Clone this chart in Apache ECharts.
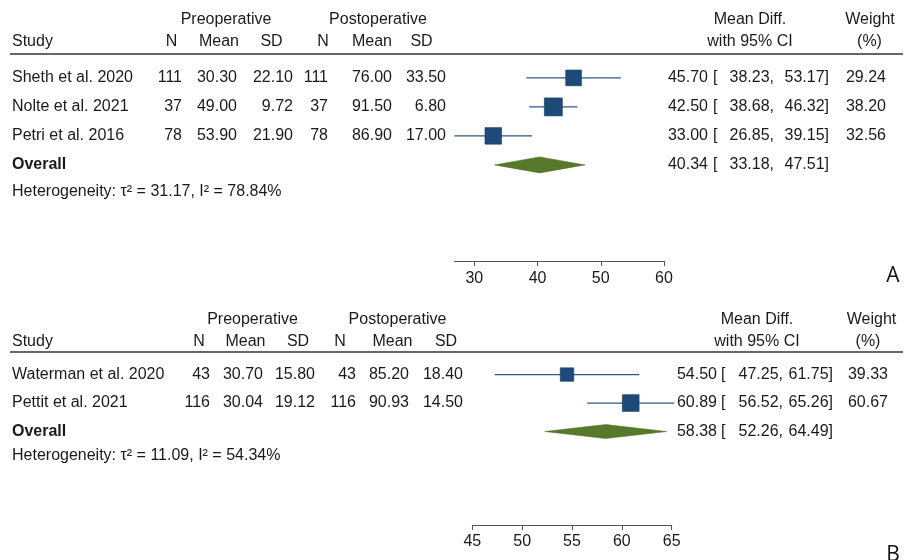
<!DOCTYPE html>
<html><head><meta charset="utf-8">
<script src="https://cdn.jsdelivr.net/npm/echarts@6/dist/echarts.min.js"></script>
<style>html,body{margin:0;padding:0;background:#fff}#c{width:904px;height:560px}</style>
</head><body><div id="c"></div>
<script>
// ---------- Panel A data ----------
const studiesA = ['Sheth et al. 2020', 'Nolte et al. 2021', 'Petri et al. 2016'];
const preNA = [111, 37, 78];
const preMeanA = [30.30, 49.00, 53.90];
const preSDA = [22.10, 9.72, 21.90];
const postNA = [111, 37, 78];
const postMeanA = [76.00, 91.50, 86.90];
const postSDA = [33.50, 6.80, 17.00];
const mdA = [45.70, 42.50, 33.00];
const loA = [38.23, 38.68, 26.85];
const hiA = [53.17, 46.32, 39.15];
const weightA = [29.24, 38.20, 32.56];
const overallA = [40.34, 33.18, 47.51]; // md, lo, hi
const tau2A = '31.17';
const i2A = '78.84';
const ticksA = [30, 40, 50, 60];

// ---------- Panel B data ----------
const studiesB = ['Waterman et al. 2020', 'Pettit et al. 2021'];
const preNB = [43, 116];
const preMeanB = [30.70, 30.04];
const preSDB = [15.80, 19.12];
const postNB = [43, 116];
const postMeanB = [85.20, 90.93];
const postSDB = [18.40, 14.50];
const mdB = [54.50, 60.89];
const loB = [47.25, 56.52];
const hiB = [61.75, 65.26];
const weightB = [39.33, 60.67];
const overallB = [58.38, 52.26, 64.49];
const tau2B = '11.09';
const i2B = '54.34';
const ticksB = [45, 50, 55, 60, 65];

const FONT = '"Liberation Sans", Arial, Helvetica, sans-serif';
const TXT = '#1a1a1a';
const SQ = '#1d4a78';
const CI = '#2e5686';
const DIA = '#58782a';

function studyRender(scale) {
  return function (params, api) {
    const md = api.value(0), i = api.value(1), lo = api.value(2), hi = api.value(3), w = api.value(4);
    const a = api.coord([lo, i]), b = api.coord([hi, i]), m = api.coord([md, i]);
    const s = scale * Math.sqrt(w);
    return { type: 'group', children: [
      { type: 'line', shape: { x1: a[0], y1: a[1], x2: b[0], y2: b[1] }, style: { stroke: CI, lineWidth: 1.2 } },
      { type: 'rect', shape: { x: m[0] - s / 2, y: m[1] - s / 2, width: s, height: s }, style: { fill: SQ, stroke: '#163a60', lineWidth: 0.6 } }
    ]};
  };
}
function diamondRender(h) {
  return function (params, api) {
    const md = api.value(0), i = api.value(1), lo = api.value(2), hi = api.value(3);
    const a = api.coord([lo, i]), b = api.coord([hi, i]), m = api.coord([md, i]);
    return { type: 'polygon', shape: { points: [[a[0], a[1]], [m[0], m[1] - h / 2], [b[0], b[1]], [m[0], m[1] + h / 2]] },
      style: { fill: DIA, stroke: '#4d6b22', lineWidth: 0.5 } };
  };
}

function xAxisCfg(grid, min, max, ticks, offset, margin) {
  return {
    type: 'value', gridIndex: grid, min: min, max: max, position: 'bottom', offset: offset,
    axisLine: { show: true, lineStyle: { color: '#555', width: 1 } },
    axisTick: { show: true, length: 5, lineStyle: { color: '#555' }, customValues: ticks },
    axisLabel: { show: true, customValues: ticks, fontSize: 16, fontFamily: FONT, color: TXT, margin: margin },
    splitLine: { show: false }
  };
}

const chart = echarts.init(document.getElementById('c'), null, { renderer: 'canvas' });
chart.setOption({
  animation: false,
  backgroundColor: '#fff',
  grid: [
    { left: 454.4, width: 209.6, top: 63.4, height: 116 },
    { left: 472.3, width: 199.4, top: 360.3, height: 85.5 }
  ],
  xAxis: [
    xAxisCfg(0, Math.min(...loA), 60, ticksA, 81.6, 10),
    xAxisCfg(1, ticksB[0], ticksB[ticksB.length - 1], ticksB, 79.2, 9)
  ],
  yAxis: [
    { type: 'category', gridIndex: 0, inverse: true, show: false, data: studiesA.concat(['Overall']) },
    { type: 'category', gridIndex: 1, inverse: true, show: false, data: studiesB.concat(['Overall']) }
  ],
  series: [
    { type: 'custom', xAxisIndex: 0, yAxisIndex: 0, renderItem: studyRender(2.91), encode: { x: 0, y: 1 },
      data: studiesA.map((s, i) => [mdA[i], i, loA[i], hiA[i], weightA[i]]) },
    { type: 'custom', xAxisIndex: 0, yAxisIndex: 0, renderItem: diamondRender(16), encode: { x: 0, y: 1 },
      data: [[overallA[0], studiesA.length, overallA[1], overallA[2]]] },
    { type: 'custom', xAxisIndex: 1, yAxisIndex: 1, renderItem: studyRender(2.15), encode: { x: 0, y: 1 },
      data: studiesB.map((s, i) => [mdB[i], i, loB[i], hiB[i], weightB[i]]) },
    { type: 'custom', xAxisIndex: 1, yAxisIndex: 1, renderItem: diamondRender(14), encode: { x: 0, y: 1 },
      data: [[overallB[0], studiesB.length, overallB[1], overallB[2]]] }
  ]
});

function txt(x, y, s, align, extra) {
  const st = Object.assign({ text: s, x: 0, y: 0, align: align || 'left', textAlign: align || 'left',
    verticalAlign: 'middle', textVerticalAlign: 'middle', fontSize: 16, fontFamily: FONT, fill: TXT }, extra || {});
  return { type: 'text', x: x, y: y, style: st, silent: true };
}
function hline(y, x1, x2) {
  return { type: 'line', shape: { x1: x1, y1: y, x2: x2, y2: y }, style: { stroke: '#333', lineWidth: 1.6 }, silent: true };
}
const f2 = v => v.toFixed(2);

function panelText(gridIdx, studies, preN, preMean, preSD, postN, postMean, postSD, md, lo, hi, w, ov, tau2, i2, L) {
  const els = [];
  // headers
  els.push(txt(L.preC, L.h1, 'Preoperative', 'center'));
  els.push(txt(L.postC, L.h1, 'Postoperative', 'center'));
  els.push(txt(L.mdC, L.h1, 'Mean Diff.', 'center'));
  els.push(txt(L.wC, L.h1, 'Weight', 'center'));
  els.push(txt(L.studyX, L.h2, 'Study', 'left'));
  ['N', 'Mean', 'SD', 'N', 'Mean', 'SD'].forEach((h, k) => els.push(txt(L.hdrC[k], L.h2, h, 'center')));
  els.push(txt(L.mdC, L.h2, 'with 95% CI', 'center'));
  els.push(txt(L.wC2, L.h2, '(%)', 'center'));
  els.push(hline(L.line, 10, 903));
  // rows: vertical position taken from the category axis
  const yOf = k => chart.convertToPixel({ gridIndex: gridIdx }, [L.xRef, k])[1];
  studies.forEach((s, i) => {
    const y = yOf(i);
    els.push(txt(L.studyX, y, s, 'left'));
    const cols = [String(preN[i]), f2(preMean[i]), f2(preSD[i]), String(postN[i]), f2(postMean[i]), f2(postSD[i])];
    cols.forEach((c, k) => els.push(txt(L.colR[k], y, c, 'right')));
    els.push(txt(L.mdR, y, f2(md[i]), 'right'));
    els.push(txt(L.brX, y, '[', 'left'));
    els.push(txt(L.loR, y, f2(lo[i]) + ',', 'right'));
    els.push(txt(L.hiR, y, f2(hi[i]) + ']', 'right'));
    els.push(txt(L.wR, y, f2(w[i]), 'right'));
  });
  const yo = yOf(studies.length);
  els.push(txt(L.studyX, yo, 'Overall', 'left', { fontWeight: 'bold' }));
  els.push(txt(L.mdR, yo, f2(ov[0]), 'right'));
  els.push(txt(L.brX, yo, '[', 'left'));
  els.push(txt(L.loR, yo, f2(ov[1]) + ',', 'right'));
  els.push(txt(L.hiR, yo, f2(ov[2]) + ']', 'right'));
  els.push(txt(L.studyX, L.het, 'Heterogeneity: τ\u00B2 = ' + tau2 + ', I\u00B2 = ' + i2 + '%', 'left'));
  els.push(txt(893, L.letterY, L.letter, 'center', { fontSize: 21, fontFamily: '"Open Sans", "Noto Sans", sans-serif', fill: '#111' }));
  return els;
}

const elsA = panelText(0, studiesA, preNA, preMeanA, preSDA, postNA, postMeanA, postSDA, mdA, loA, hiA, weightA, overallA, tau2A, i2A, {
  xRef: 40, studyX: 12, h1: 20, h2: 42, line: 54, het: 192,
  preC: 226, postC: 378, mdC: 750, wC: 870, wC2: 869.5,
  hdrC: [171.5, 219, 271.5, 323, 372, 421.5],
  colR: [182, 237, 293, 328, 392, 446],
  mdR: 708, brX: 713, loR: 774, hiR: 829, wR: 886,
  letter: 'A', letterY: 276
});
const elsB = panelText(1, studiesB, preNB, preMeanB, preSDB, postNB, postMeanB, postSDB, mdB, loB, hiB, weightB, overallB, tau2B, i2B, {
  xRef: 55, studyX: 12, h1: 320, h2: 341.7, line: 352, het: 456,
  preC: 252.5, postC: 397.5, mdC: 757, wC: 871.5, wC2: 868,
  hdrC: [199, 245.5, 298, 340, 392.5, 446],
  colR: [210, 263, 315, 356, 409, 463],
  mdR: 717, brX: 721, loR: 783, hiR: 833, wR: 888,
  letter: 'B', letterY: 555
});

chart.setOption({ graphic: { elements: elsA.concat(elsB) } });
</script>
</body></html>
